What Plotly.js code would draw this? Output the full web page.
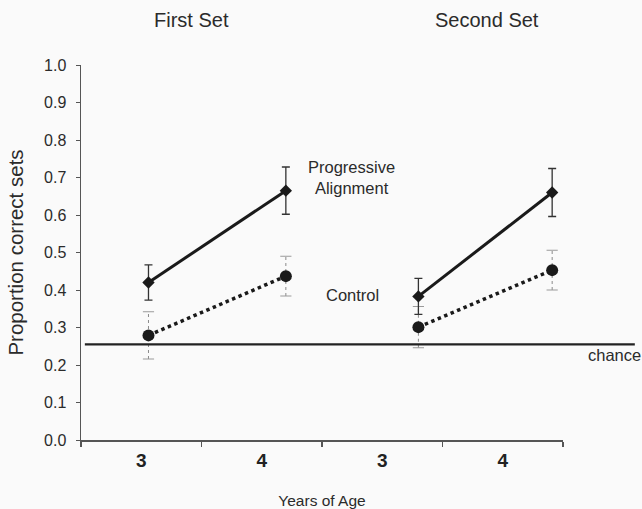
<!DOCTYPE html>
<html>
<head>
<meta charset="utf-8">
<script src="https://cdn.plot.ly/plotly-3.0.1.min.js"></script>
<style>html,body{margin:0;padding:0;background:#fafafa;}#chart{width:642px;height:509px;}</style>
</head>
<body>
<div id="chart"></div>
<script>
// ---- data ----
var setNames = ['First Set', 'Second Set'];
var ageLabels = ['3', '4', '3', '4'];
var ageLabelPos = [0.5, 1.5, 2.5, 3.5];
var groupBounds = [0, 1, 2, 3, 4];
var pointPos = [0.56, 1.70, 2.80, 3.91];
var progressive = [0.42, 0.665, 0.383, 0.66];
var progressiveErr = [0.047, 0.063, 0.048, 0.064];
var control = [0.279, 0.437, 0.301, 0.453];
var controlErr = [0.063, 0.053, 0.055, 0.053];
var chance = 0.255;
var yTicks = [0, 0.1, 0.2, 0.3, 0.4, 0.5, 0.6, 0.7, 0.8, 0.9, 1.0];

var FONT = 'Liberation Sans, Arial, sans-serif';
var traces = [];

// control dotted error bars
var ex = [], ey = [], cx = [], cy = [];
for (var i = 0; i < control.length; i++) {
  ex.push(pointPos[i], pointPos[i], null);
  ey.push(control[i] - controlErr[i], control[i] + controlErr[i], null);
  cx.push(pointPos[i], pointPos[i]);
  cy.push(control[i] - controlErr[i], control[i] + controlErr[i]);
}
traces.push({x: ex, y: ey, mode: 'lines', line: {color: '#8a8a8a', width: 1, dash: 'dot'}, hoverinfo: 'skip', showlegend: false});
traces.push({x: cx, y: cy, mode: 'markers', marker: {symbol: 'line-ew', size: 8, line: {color: '#9a9a9a', width: 1}}, hoverinfo: 'skip', showlegend: false});

for (var s = 0; s < setNames.length; s++) {
  var idx = [2 * s, 2 * s + 1];
  traces.push({
    name: 'Control ' + setNames[s],
    x: idx.map(function (k) { return pointPos[k]; }),
    y: idx.map(function (k) { return control[k]; }),
    mode: 'lines+markers',
    line: {color: '#1a1a1a', width: 3.5, dash: 'dot'},
    marker: {symbol: 'circle', size: 12, color: '#1a1a1a'},
    showlegend: false
  });
  traces.push({
    name: 'Progressive Alignment ' + setNames[s],
    x: idx.map(function (k) { return pointPos[k]; }),
    y: idx.map(function (k) { return progressive[k]; }),
    mode: 'lines+markers',
    line: {color: '#1a1a1a', width: 3},
    marker: {symbol: 'diamond', size: 9.5, color: '#1a1a1a'},
    error_y: {type: 'data', array: idx.map(function (k) { return progressiveErr[k]; }), color: '#333', thickness: 1.3, width: 4},
    showlegend: false
  });
}

var layout = {
  width: 642, height: 509,
  paper_bgcolor: '#fafafa', plot_bgcolor: '#fafafa',
  margin: {l: 81, r: 79, t: 65, b: 69},
  font: {family: FONT, color: '#2b2b2b'},
  showlegend: false,
  xaxis: {
    range: [0, 4], showgrid: false, zeroline: false,
    showline: true, linecolor: '#555', linewidth: 1.5,
    tickmode: 'array', tickvals: ageLabelPos, ticktext: ageLabels, ticks: '',
    ticklabelstandoff: 3,
    tickfont: {family: FONT, size: 19, color: '#222', weight: 'bold'},
    minor: {tickmode: 'array', tickvals: groupBounds, ticks: 'outside', ticklen: 5, tickcolor: '#555', tickwidth: 1.5, showgrid: false},
    title: {text: 'Years of Age', font: {family: FONT, size: 15.5, color: '#2b2b2b'}, standoff: 28},
    automargin: false, fixedrange: true
  },
  yaxis: {
    range: [0, 1], showgrid: false, zeroline: false,
    showline: true, linecolor: '#555', linewidth: 1.5,
    tickmode: 'array', tickvals: yTicks, ticktext: yTicks.map(function (v) { return v.toFixed(1); }),
    ticks: 'outside', ticklen: 4, tickcolor: '#555', tickwidth: 1,
    ticklabelstandoff: 6,
    tickfont: {family: FONT, size: 16, color: '#2b2b2b'},
    title: {text: 'Proportion correct sets', font: {family: FONT, size: 20.5, color: '#2b2b2b'}, standoff: 15},
    automargin: false, fixedrange: true
  },
  shapes: [{type: 'line', xref: 'paper', yref: 'y', x0: 0.008, x1: 1.149, y0: chance, y1: chance, line: {color: '#222', width: 2.2}}],
  annotations: [
    {xref: 'paper', yref: 'paper', x: 0.23, y: 1.12, xanchor: 'center', text: setNames[0], showarrow: false, font: {size: 20, color: '#2b2b2b'}, yanchor: 'middle'},
    {xref: 'paper', yref: 'paper', x: 0.842, y: 1.12, xanchor: 'center', text: setNames[1], showarrow: false, font: {size: 20, color: '#2b2b2b'}, yanchor: 'middle'},
    {xref: 'x', yref: 'y', x: 2.245, y: 0.7, text: 'Progressive<br>Alignment', showarrow: false, font: {size: 16.5, color: '#2b2b2b'}, align: 'center'},
    {xref: 'x', yref: 'y', x: 2.25, y: 0.387, text: 'Control', showarrow: false, font: {size: 16.5, color: '#2b2b2b'}},
    {xref: 'paper', yref: 'y', x: 1.106, y: 0.227, xanchor: 'center', text: 'chance', showarrow: false, font: {size: 16.5, color: '#2b2b2b'}}
  ]
};

Plotly.newPlot('chart', traces, layout, {displayModeBar: false, staticPlot: true});
</script>
</body>
</html>
